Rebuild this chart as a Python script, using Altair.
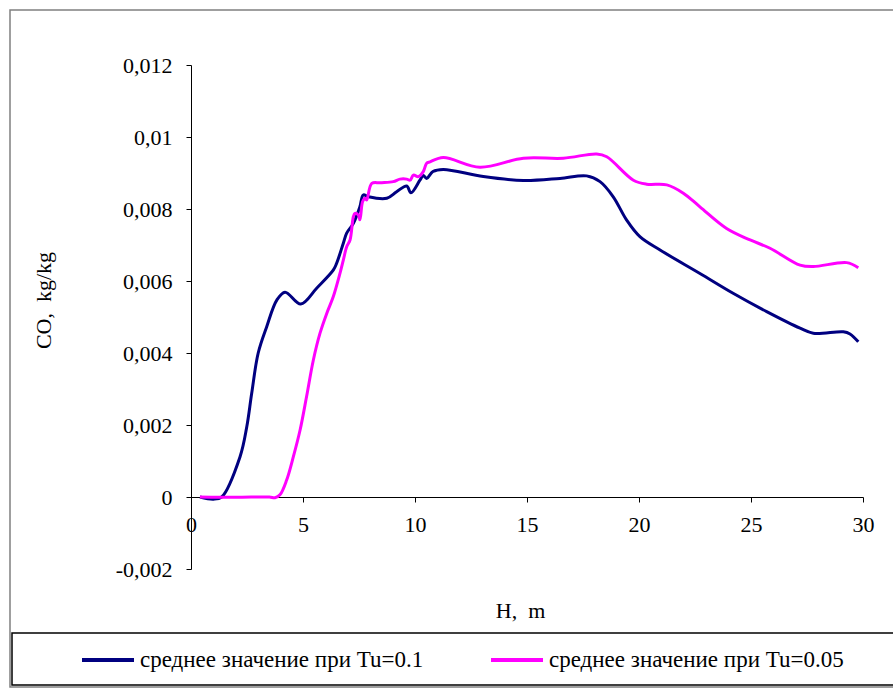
import altair as alt
import pandas as pd

# Series 1: среднее значение при Tu=0.1
h1 = [0.4, 1.0, 1.37, 2.19, 2.49, 2.71, 3.0, 3.38, 3.83, 4.2, 4.9, 5.61, 6.35, 6.5, 6.8, 6.95,
      7.25, 7.54, 7.69, 7.92, 8.74, 9.18, 9.63, 9.82, 10.22, 10.37, 10.52, 10.8, 11.26, 13.05,
      14.84, 16.47, 17.66, 18.26, 18.85, 19.45, 20.04, 20.94, 22.72, 24.2, 25.7, 27.19, 27.78,
      29.12, 29.42, 29.79]
co1 = [0.0, -0.00006, 0.0, 0.00112, 0.00195, 0.00288, 0.0040, 0.00473, 0.00547, 0.00569,
       0.00536, 0.0058, 0.0063, 0.00649, 0.00705, 0.00733, 0.0076, 0.00806, 0.00839, 0.00834,
       0.0083, 0.00848, 0.00864, 0.00845, 0.0088, 0.00893, 0.00885, 0.00904, 0.0091, 0.0089,
       0.00879, 0.00885, 0.00892, 0.00876, 0.00834, 0.00769, 0.00723, 0.00686, 0.00621,
       0.00566, 0.00515, 0.00469, 0.00455, 0.00459, 0.00453, 0.00431]

# Series 2: среднее значение при Tu=0.05
h2 = [0.4, 2.0, 3.5, 3.75, 3.97, 4.27, 4.57, 4.87, 5.16, 5.46, 5.76, 6.06, 6.35, 6.65, 6.8,
      6.95, 7.1, 7.25, 7.32, 7.47, 7.54, 7.66, 7.77, 7.84, 8.07, 8.44, 9.03, 9.33, 9.63, 9.78,
      9.93, 10.15, 10.37, 10.52, 10.67, 11.26, 12.9, 14.84, 16.62, 18.11, 18.56, 19.75, 20.34,
      21.24, 21.98, 22.72, 23.91, 24.96, 25.85, 27.19, 27.78, 29.27, 29.79]
co2 = [0.0, -0.00001, 0.0, -0.00002, 0.00006, 0.00047, 0.00112, 0.00186, 0.00279, 0.0038,
       0.00455, 0.0051, 0.00556, 0.00621, 0.00658, 0.00695, 0.00714, 0.00779, 0.00788,
       0.00783, 0.0077, 0.0082, 0.0083, 0.00825, 0.00871, 0.00873, 0.00876, 0.00883, 0.00883,
       0.0088, 0.00894, 0.0089, 0.00904, 0.00927, 0.00931, 0.00943, 0.00916, 0.00941, 0.00941,
       0.00953, 0.00945, 0.0088, 0.00869, 0.00867, 0.00844, 0.00806, 0.00746, 0.00714,
       0.00691, 0.00644, 0.0064, 0.00651, 0.00637]

series_names = ["среднее значение при Tu=0.1", "среднее значение при Tu=0.05"]
series_colors = ["#000080", "#FF00FF"]
x_ticks = [0, 5, 10, 15, 20, 25, 30]
y_ticks = [-0.002, 0, 0.002, 0.004, 0.006, 0.008, 0.01, 0.012]

rows = []
for i, (h, c) in enumerate(zip(h1, co1)):
    rows.append({"H": h, "CO": c, "series": series_names[0], "order": i})
for i, (h, c) in enumerate(zip(h2, co2)):
    rows.append({"H": h, "CO": c, "series": series_names[1], "order": i})
df = pd.DataFrame(rows)

FONT = "Liberation Serif"
W, H = 672, 504

frame_df = pd.DataFrame({"k": [0]})
outer = alt.Chart(frame_df).mark_rect(filled=False, stroke="#808080", strokeWidth=1.5).encode(
    x=alt.value(-181), x2=alt.value(720), y=alt.value(-55), y2=alt.value(622)
)
legbox = alt.Chart(frame_df).mark_rect(filled=False, stroke="black", strokeWidth=1.5).encode(
    x=alt.value(-179), x2=alt.value(720), y=alt.value(568), y2=alt.value(620)
)

lines = alt.Chart(df).mark_line(strokeWidth=3, interpolate="catmull-rom").encode(
    x=alt.X("H:Q", scale=alt.Scale(domain=[0, 30], nice=False),
            axis=alt.Axis(values=x_ticks, title="H,\u00a0 m", offset=-72, grid=False,
                          domainColor="black", tickColor="black", tickSize=5,
                          labelFont=FONT, labelFontSize=22, labelColor="black",
                          labelPadding=12, labelFlush=False,
                          titleFont=FONT, titleFontSize=22, titleFontWeight="normal",
                          titleColor="black", titleX=329, titleY=113,
                          titleBaseline="middle", titleAlign="center")),
    y=alt.Y("CO:Q", scale=alt.Scale(domain=[-0.002, 0.012], nice=False, zero=False),
            axis=alt.Axis(values=y_ticks, title="CO,\u00a0 kg/kg", grid=False,
                          domainColor="black", tickColor="black", tickSize=5,
                          labelFont=FONT, labelFontSize=22, labelColor="black",
                          labelPadding=14, labelFlush=False,
                          labelExpr="replace(toString(datum.value), '.', ',')",
                          titleFont=FONT, titleFontSize=22, titleFontWeight="normal",
                          titleColor="black", titleX=-148, titleY=235, titleAngle=270,
                          titleBaseline="middle", titleAlign="center")),
    color=alt.Color("series:N", scale=alt.Scale(domain=series_names, range=series_colors),
                    legend=alt.Legend(title=None, orient="none", legendX=-111, legendY=567,
                                      direction="horizontal", symbolType="stroke",
                                      symbolSize=2704, symbolStrokeWidth=4,
                                      labelFont=FONT, labelFontSize=23, labelColor="black",
                                      labelOffset=4, columnPadding=59, labelLimit=400)),
    order="order:Q",
)

chart = alt.layer(outer, legbox, lines).properties(
    width=W, height=H,
    background="white",
    autosize=alt.AutoSizeParams(type="none"),
    padding={"left": 191, "top": 65, "right": 30, "bottom": 120},
).configure(font=FONT).configure_view(strokeWidth=0)

chart.save("out.html", embed_options={"renderer": "svg", "actions": False})
